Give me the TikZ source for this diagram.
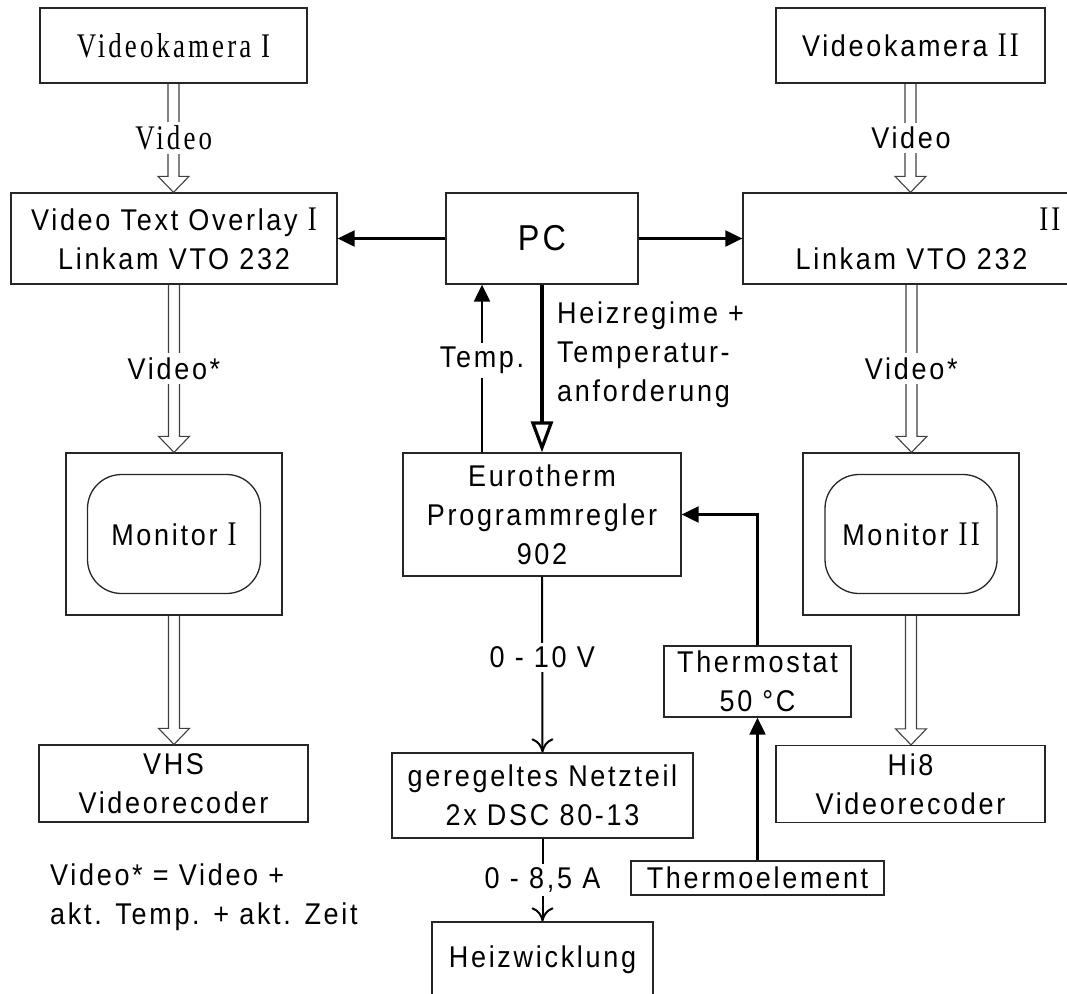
\documentclass[tikz,border=0pt]{standalone}
\usepackage{fontspec}
\setmainfont{Liberation Sans}[FakeStretch=0.9,LetterSpace=9]
\newfontfamily\timesfont{Liberation Serif}[Scale=1.15,FakeStretch=0.78,LetterSpace=9]
\usetikzlibrary{arrows.meta}
\usetikzlibrary{calc}
\newcommand{\romnum}[1]{{\timesfont #1}}

\tikzset{
  box/.style={draw=black!85, line width=1.3pt, align=center, inner sep=0pt},
  screen/.style={box, rounded corners=34pt},
  sig/.style={line width=2.2pt, -{Triangle[length=17pt,width=16pt]}},
  plain/.style={line width=2pt, -{Computer Modern Rightarrow[length=14pt,width=22pt]}},
  cmd/.style={line width=3.2pt, -{Triangle[open,length=31pt,width=22pt,fill=white]}},
  lbl/.style={fill=white, inner sep=4pt},
  % hollow video arrow between two nodes
  videoflow/.style={draw=black!75, line width=1.1pt,
    to path={let \p1=(\tikztostart), \p2=(\tikztotarget) in
      ({\x1-5.5pt},\y1) -- ({\x1-5.5pt},{\y2+16pt}) -- ({\x1-15.5pt},{\y2+16pt}) -- (\x1,\y2)
      -- ({\x1+15.5pt},{\y2+16pt}) -- ({\x1+5.5pt},{\y2+16pt}) -- ({\x1+5.5pt},\y1)}}
}

\begin{document}
\begin{tikzpicture}[x=1pt,y=-1pt,font=\fontsize{30}{39}\selectfont]
\useasboundingbox (0,0) rectangle (1067,993);
\clip (0,0) rectangle (1067,993);

% left chain
\node[box, minimum width=267pt, minimum height=75pt] (cam1) at (173.5,45.5) {\timesfont Videokamera I};
\node[box, minimum width=326pt, minimum height=91pt] (vto1) at (174,238.5) {Video Text Overlay \romnum{I}\\Linkam VTO 232};
\node[box, minimum width=216pt, minimum height=162pt] (mon1) at (174,534) {};
\node[screen, minimum width=173pt, minimum height=119pt] (scr1) at (mon1) {Monitor \romnum{I}};
\node[box, minimum width=269pt, minimum height=77pt] (vhs) at (173.5,783.5) {VHS\\Videorecoder};

% right chain
\node[box, minimum width=269pt, minimum height=75pt] (cam2) at (910.5,45.5) {Videokamera \romnum{II}};
\node[box, minimum width=337pt, minimum height=91pt] (vto2) at (911.5,238.5) {\phantom{Video Text Overlay }\romnum{II}\\Linkam VTO 232};
\node[box, minimum width=216pt, minimum height=162pt] (mon2) at (911,534) {};
\node[screen, minimum width=172pt, minimum height=119pt] (scr2) at (mon2) {Monitor \romnum{II}};
\node[box, minimum width=269pt, minimum height=77pt] (hi8) at (910.5,784) {Hi8\\Videorecoder};

% middle
\node[box, minimum width=192pt, minimum height=91pt, font=\fontsize{36}{44}\selectfont] (pc) at (542,238.5) {PC};
\node[box, minimum width=278pt, minimum height=123pt] (euro) at (542,514.5) {Eurotherm\\Programmregler\\902};
\node[box, minimum width=301pt, minimum height=85pt] (netz) at (542.5,795.5) {geregeltes Netzteil\\2x DSC 80-13};
\node[box, minimum width=221pt, minimum height=76pt] (heiz) at (542.5,960) {Heizwicklung};
\node[box, minimum width=187pt, minimum height=71pt] (tstat) at (757.5,681.5) {Thermostat\\50 °C};
\node[box, minimum width=253pt, minimum height=34pt] (telem) at (757.5,878) {Thermoelement};

\node[align=left, anchor=north west, inner sep=0pt] (req) at (557,302) {Heizregime +\\Temperatur-\\anforderung};
\node[align=left, anchor=west, inner sep=0pt] (legend) at (50,897) {Video* = Video +\\akt. Temp. + akt. Zeit};

% video signals
\draw[videoflow] (cam1.south) to (vto1.north);
\draw[videoflow] (vto1.south) to (mon1.north);
\draw[videoflow] (mon1.south) to (vhs.north);
\draw[videoflow] (cam2.south) to (vto2.north);
\draw[videoflow] (vto2.south) to (mon2.north);
\draw[videoflow] (mon2.south) to (hi8.north);
\path (cam1.south) -- node[lbl]{\timesfont Video} (vto1.north);
\path (vto1.south) -- node[lbl]{Video*} (mon1.north);
\path (cam2.south) -- node[lbl]{Video} (vto2.north);
\path (vto2.south) -- node[lbl]{Video*} (mon2.north);

% control
\draw[sig] (pc.west) -- (vto1.east);
\draw[sig] (pc.east) -- (vto2.west);
\draw[sig] ([xshift=-60pt]euro.north) -- node[lbl, pos=0.55]{Temp.} ([xshift=-60pt]pc.south);
\draw[cmd] (pc.south) -- (euro.north);
\draw[plain] (euro.south) -- node[lbl, pos=0.46]{0 - 10 V} (netz.north);
\draw[plain] (netz.south) -- node[lbl]{0 - 8,5 A} (heiz.north);
\draw[sig] (tstat.north) |- (euro.east);
\draw[sig] (telem.north) -- (tstat.south);

\end{tikzpicture}
\end{document}
